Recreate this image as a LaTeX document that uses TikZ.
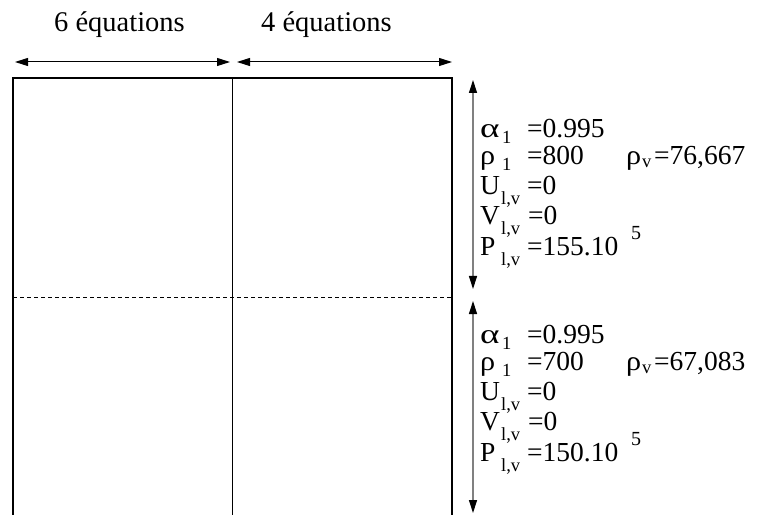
\documentclass[tikz,border=0pt]{standalone}
\usepackage{fontspec}
\setmainfont{Liberation Serif}
\usetikzlibrary{arrows.meta}
\tikzset{
  big/.style={inner sep=0pt,anchor=base west,font=\fontsize{27.5bp}{30bp}\selectfont},
  head/.style={inner sep=0pt,anchor=base west,font=\fontsize{28.5bp}{30bp}\selectfont},
  sub/.style={inner sep=0pt,anchor=base west,font=\fontsize{18.5bp}{20bp}\selectfont},
  supnum/.style={inner sep=0pt,anchor=base west,font=\fontsize{20bp}{22bp}\selectfont},
  dimarrow/.style={line width=1bp,{Triangle[length=13bp,width=8bp]}-{Triangle[length=13bp,width=8bp]}},
  vdim/.style={line width=1.2bp,draw=black!50,{Triangle[length=13bp,width=8bp,color=black]}-{Triangle[length=13bp,width=8bp,color=black]}},
  frame/.style={line width=2bp},
  thin/.style={line width=1bp},
}
\newcommand{\wideAlpha}{\scalebox{1.35}[1]{α}}
\newcommand{\wideRho}{\scalebox{1.1}[1]{ρ}}
\begin{document}
\begin{tikzpicture}[x=1bp,y=-1bp]
\useasboundingbox (0,0) rectangle (759,515);
% frame
\coordinate (tl) at (13,78);
\coordinate (tr) at (452,78);
\coordinate (bl) at (13,516);
\coordinate (br) at (452,516);
\coordinate (mt) at (232,78);
\coordinate (mb) at (232,516);
\coordinate (dl) at (13,297);
\coordinate (dr) at (452,297);
\draw[frame] (bl) -- (tl) -- (tr) -- (br);
\draw[thin] (mt) -- (mb);
\draw[thin,dash pattern=on 4bp off 3bp] (dl) -- (dr);
% top dimension arrows
\coordinate (a1) at (15,62);
\coordinate (a2) at (230,62);
\coordinate (a3) at (237,62);
\coordinate (a4) at (452,62);
\draw[dimarrow] (a1) -- (a2);
\draw[dimarrow] (a3) -- (a4);
\node[head] (l6) at (54,32) {6 équations};
\node[head] (l4) at (261,32) {4 équations};
% vertical arrows
\coordinate (v1) at (473,80);
\coordinate (v2) at (473,289);
\coordinate (v3) at (473,301);
\coordinate (v4) at (473,513);
\draw[vdim] (v1) -- (v2);
\draw[vdim] (v3) -- (v4);
% top block
\node[big] (ta) at (480,138) {\wideAlpha};
\node[sub] (tas) at (502,144) {1};
\node[big] (tav) at (527,138) {=0.995};
\node[big] (tr1) at (480,165) {\wideRho};
\node[sub] (tr1s) at (502,171) {1};
\node[big] (tr1v) at (527,165) {=800};
\node[big] (tr2) at (626,165) {\wideRho};
\node[sub] (tr2s) at (642,168) {v};
\node[big] (tr2v) at (654,165) {=76,667};
\node[big] (tu) at (480,195) {U};
\node[sub] (tus) at (501,205) {l,v};
\node[big] (tuv) at (527,195) {=0};
\node[big] (tv) at (480,225) {V};
\node[sub] (tvs) at (501,235) {l,v};
\node[big] (tvv) at (528,225) {=0};
\node[big] (tp) at (480,256) {P};
\node[sub] (tps) at (501,266) {l,v};
\node[big] (tpv) at (527,256) {=155.10};
\node[supnum] (tpe) at (631,240) {5};
% bottom block
\node[big] (ba) at (480,343) {\wideAlpha};
\node[sub] (bas) at (502,349) {1};
\node[big] (bav) at (527,343) {=0.995};
\node[big] (br1) at (480,370) {\wideRho};
\node[sub] (br1s) at (502,376) {1};
\node[big] (br1v) at (527,370) {=700};
\node[big] (br2) at (626,370) {\wideRho};
\node[sub] (br2s) at (642,373) {v};
\node[big] (br2v) at (654,370) {=67,083};
\node[big] (bu) at (480,400) {U};
\node[sub] (bus) at (501,410) {l,v};
\node[big] (buv) at (527,400) {=0};
\node[big] (bv) at (480,430) {V};
\node[sub] (bvs) at (501,440) {l,v};
\node[big] (bvv) at (528,430) {=0};
\node[big] (bp) at (480,461) {P};
\node[sub] (bps) at (501,471) {l,v};
\node[big] (bpv) at (527,461) {=150.10};
\node[supnum] (bpe) at (631,445) {5};
\end{tikzpicture}
\end{document}
